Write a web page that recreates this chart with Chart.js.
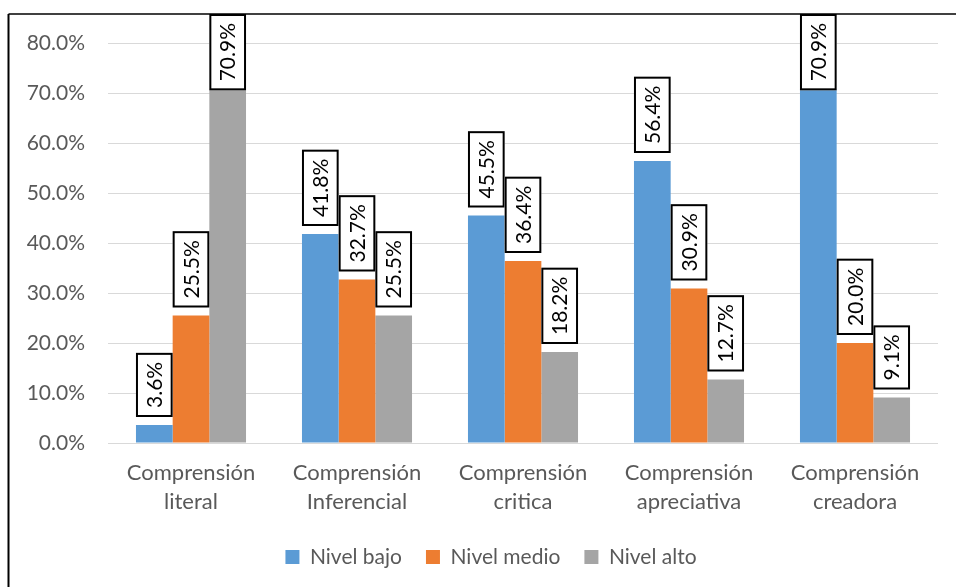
<!DOCTYPE html>
<html>
<head>
<meta charset="utf-8">
<script src="https://cdn.jsdelivr.net/npm/chart.js@4/dist/chart.umd.min.js"></script>
<style>
  html, body { margin: 0; padding: 0; background: #fff; }
  #wrap { width: 956px; height: 587px; position: relative; }
</style>
</head>
<body>
<div id="wrap"><canvas id="c" width="956" height="587"></canvas></div>
<script>
// Reading-comprehension levels per dimension (percent of students)
const categories = [
  ['Comprensión', 'literal'],
  ['Comprensión', 'Inferencial'],
  ['Comprensión', 'critica'],
  ['Comprensión', 'apreciativa'],
  ['Comprensión', 'creadora']
];
const seriesNames = ['Nivel bajo', 'Nivel medio', 'Nivel alto'];
const nivelBajo  = [3.6, 41.8, 45.5, 56.4, 70.9];
const nivelMedio = [25.5, 32.7, 36.4, 30.9, 20.0];
const nivelAlto  = [70.9, 25.5, 18.2, 12.7, 9.1];
const seriesColors = ['#5B9BD5', '#ED7D31', '#A5A5A5'];
const yTicks = { min: 0, max: 80, step: 10 };

const FONT = 'Lato, "Open Sans", sans-serif';
const FONT_SIZE = 21;
const FRAME_TOP = 14;

// Rotated value labels in framed white boxes above each bar
const boxedLabels = {
  id: 'boxedLabels',
  afterDatasetsDraw(chart) {
    const ctx = chart.ctx;
    ctx.save();
    ctx.font = FONT_SIZE + 'px ' + FONT;
    chart.data.datasets.forEach((ds, di) => {
      const meta = chart.getDatasetMeta(di);
      meta.data.forEach((bar, i) => {
        const text = ds.data[i].toFixed(1) + '%';
        const tw = ctx.measureText(text).width;
        const w = bar.width;
        const h = tw + 18;
        let bottom = bar.y - 8;
        let top = bottom - h;
        if (top < FRAME_TOP) { top = FRAME_TOP; bottom = top + h; }
        const left = bar.x - w / 2;
        ctx.fillStyle = '#fff';
        ctx.fillRect(left, top, w, h);
        ctx.lineWidth = 2;
        ctx.strokeStyle = '#000';
        ctx.strokeRect(left + 1, top + 1, w - 2, h - 2);
        ctx.save();
        ctx.translate(bar.x, top + h / 2);
        ctx.rotate(-Math.PI / 2);
        ctx.fillStyle = '#000';
        ctx.textAlign = 'center';
        ctx.textBaseline = 'middle';
        ctx.fillText(text, 0, 1);
        ctx.restore();
      });
    });
    ctx.restore();
  }
};

// Outer frame lines of the figure
const frame = {
  id: 'frame',
  afterDraw(chart) {
    const ctx = chart.ctx;
    ctx.save();
    ctx.strokeStyle = '#000';
    ctx.lineWidth = 1.5;
    ctx.beginPath();
    ctx.moveTo(8.5, FRAME_TOP);
    ctx.lineTo(956, FRAME_TOP);
    ctx.stroke();
    ctx.lineWidth = 2;
    ctx.beginPath();
    ctx.moveTo(8.5, FRAME_TOP);
    ctx.lineTo(8.5, 587);
    ctx.stroke();
    ctx.restore();
  }
};

const series = [nivelBajo, nivelMedio, nivelAlto];

new Chart(document.getElementById('c'), {
  type: 'bar',
  data: {
    labels: categories,
    datasets: series.map((vals, i) => ({
      label: seriesNames[i],
      data: vals,
      backgroundColor: seriesColors[i],
      borderWidth: 0,
      categoryPercentage: 0.663,
      barPercentage: 1.0
    }))
  },
  options: {
    responsive: false,
    devicePixelRatio: 1,
    animation: false,
    layout: { padding: { left: 26, right: 0, top: 43, bottom: 9.5 } },
    plugins: {
      legend: {
        position: 'bottom',
        labels: {
          boxWidth: 14,
          boxHeight: 14,
          padding: 24,
          color: '#595959',
          font: { family: FONT, size: FONT_SIZE }
        }
      },
      tooltip: { enabled: false }
    },
    scales: {
      x: {
        grid: { display: false },
        border: { display: false },
        ticks: {
          color: '#595959',
          font: { family: FONT, size: 22, lineHeight: 1.33 },
          maxRotation: 0,
          autoSkip: false,
          padding: 7
        },
        afterFit(s) { s.height = 79.5; }
      },
      y: {
        min: yTicks.min,
        max: yTicks.max,
        grid: { color: '#D9D9D9', lineWidth: 1, drawTicks: false },
        border: { display: false },
        ticks: {
          stepSize: yTicks.step,
          color: '#595959',
          font: { family: FONT, size: FONT_SIZE },
          padding: 23,
          callback: v => v.toFixed(1) + '%'
        },
        afterFit(s) { s.width = 82; }
      },
      yR: {
        position: 'right',
        display: true,
        grid: { display: false },
        border: { display: false },
        ticks: { display: false },
        afterFit(s) { s.width = 18; }
      }
    }
  },
  plugins: [boxedLabels, frame]
});
</script>
</body>
</html>
